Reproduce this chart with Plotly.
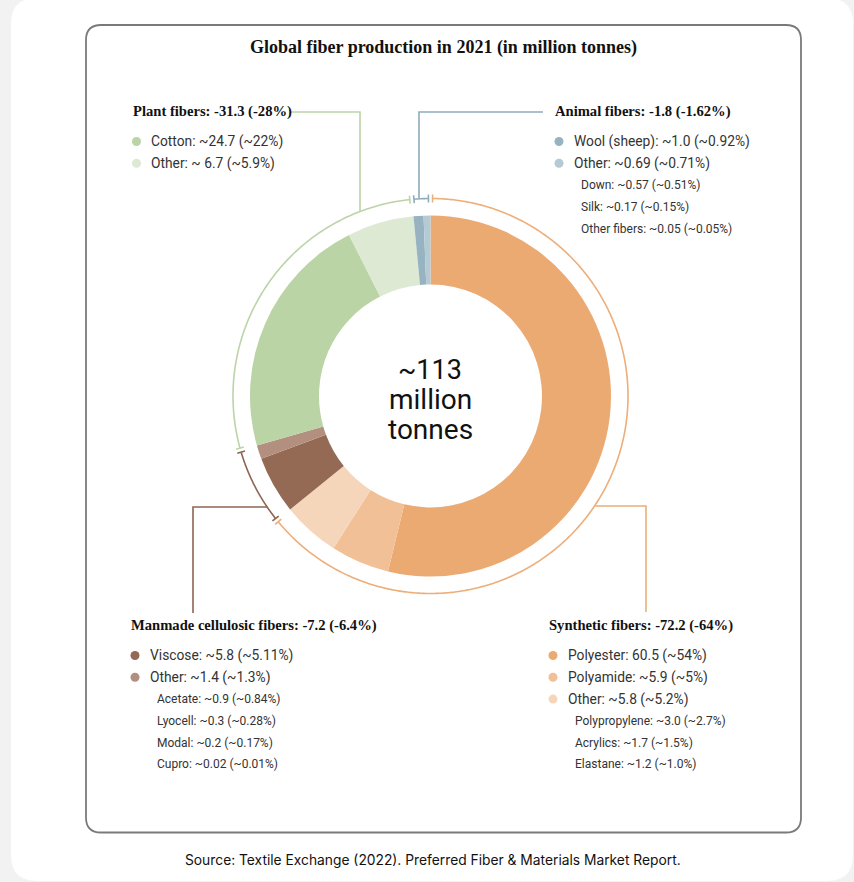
import math
import plotly.graph_objects as go

W, H = 854, 882

# ---------------- data ----------------
categories = ["Polyester", "Polyamide", "Other synthetic", "Viscose", "Other cellulosic",
              "Cotton", "Other plant", "Wool (sheep)", "Other animal"]
values = [60.5, 5.9, 5.8, 5.8, 1.4, 24.7, 6.7, 1.0, 0.69]
slice_groups = ["Synthetic", "Synthetic", "Synthetic", "Cellulosic", "Cellulosic",
                "Plant", "Plant", "Animal", "Animal"]
slice_colors = ["#ECAA73", "#F1C096", "#F6D6BB", "#956A55", "#B38F80",
                "#BBD4A6", "#DEE9D4", "#97B3C1", "#B4CAD5"]

group_names = ["Synthetic", "Cellulosic", "Plant", "Animal"]
group_titles = {
    "Synthetic": "Synthetic fibers: -72.2 (-64%)",
    "Cellulosic": "Manmade cellulosic fibers: -7.2 (-6.4%)",
    "Plant": "Plant fibers: -31.3 (-28%)",
    "Animal": "Animal fibers: -1.8 (-1.62%)",
}
group_line_colors = {"Synthetic": "#EDAE79", "Cellulosic": "#8E6552",
                     "Plant": "#BCD4A8", "Animal": "#8FADBD"}

synthetic_items = ["Polyester: 60.5 (~54%)", "Polyamide: ~5.9 (~5%)", "Other: ~5.8 (~5.2%)"]
synthetic_sub = ["Polypropylene: ~3.0 (~2.7%)", "Acrylics: ~1.7 (~1.5%)", "Elastane: ~1.2 (~1.0%)"]
cellulosic_items = ["Viscose: ~5.8 (~5.11%)", "Other: ~1.4 (~1.3%)"]
cellulosic_sub = ["Acetate: ~0.9 (~0.84%)", "Lyocell: ~0.3 (~0.28%)",
                  "Modal: ~0.2 (~0.17%)", "Cupro: ~0.02 (~0.01%)"]
plant_items = ["Cotton: ~24.7 (~22%)", "Other: ~ 6.7 (~5.9%)"]
plant_sub = []
animal_items = ["Wool (sheep): ~1.0 (~0.92%)", "Other: ~0.69 (~0.71%)"]
animal_sub = ["Down: ~0.57 (~0.51%)", "Silk: ~0.17 (~0.15%)", "Other fibers: ~0.05 (~0.05%)"]

group_items = {"Synthetic": synthetic_items, "Cellulosic": cellulosic_items,
               "Plant": plant_items, "Animal": animal_items}
group_subs = {"Synthetic": synthetic_sub, "Cellulosic": cellulosic_sub,
              "Plant": plant_sub, "Animal": animal_sub}

title_text = "Global fiber production in 2021 (in million tonnes)"
center_lines = ["~113", "million", "tonnes"]
source_text = "Source: Textile Exchange (2022). Preferred Fiber &amp; Materials Market Report."

# ---------------- layout constants (pixels) ----------------
CX, CY = 430.5, 396.0
R_OUT = 180.5
R_IN = 111.5
R_ARC = 197.5
HALF_GAP = 0.6
TICK = 4.0

block_pos = {"Synthetic": (547, 625), "Cellulosic": (129, 625),
             "Plant": (130.5, 111), "Animal": (553, 111)}
leaders = {
    "Plant": dict(kind="v", elbow=(360, 112), end=(290, 112)),
    "Animal": dict(kind="v", elbow=(419, 112), end=(543, 112)),
    "Cellulosic": dict(kind="h", elbow=(193, 507), end=(193, 613)),
    "Synthetic": dict(kind="h", elbow=(646, 506), end=(646, 612)),
}

SERIF = "Liberation Serif"
SANS = "Roboto"


def px(x):
    return x / W


def py(y):
    return 1 - y / H


def path_of(points, close=False):
    s = "M " + " L ".join(f"{px(x):.5f},{py(y):.5f}" for x, y in points)
    return s + (" Z" if close else "")


def polar(theta_deg, r):
    t = math.radians(theta_deg)
    return CX + r * math.sin(t), CY - r * math.cos(t)


fig = go.Figure()

fig.add_trace(go.Pie(
    labels=categories, values=values, sort=False, direction="clockwise", rotation=0,
    hole=R_IN / R_OUT, marker=dict(colors=slice_colors, line=dict(width=0)),
    textinfo="none", showlegend=False,
    domain=dict(x=[px(CX - R_OUT), px(CX + R_OUT)], y=[py(CY + R_OUT), py(CY - R_OUT)]),
    hovertemplate="%{label}: %{value}<extra></extra>",
))

shapes = []


def rounded_rect(x0, y0, x1, y1, r):
    return (f"M {px(x0 + r):.5f},{py(y0):.5f} L {px(x1 - r):.5f},{py(y0):.5f} "
            f"Q {px(x1):.5f},{py(y0):.5f} {px(x1):.5f},{py(y0 + r):.5f} "
            f"L {px(x1):.5f},{py(y1 - r):.5f} Q {px(x1):.5f},{py(y1):.5f} {px(x1 - r):.5f},{py(y1):.5f} "
            f"L {px(x0 + r):.5f},{py(y1):.5f} Q {px(x0):.5f},{py(y1):.5f} {px(x0):.5f},{py(y1 - r):.5f} "
            f"L {px(x0):.5f},{py(y0 + r):.5f} Q {px(x0):.5f},{py(y0):.5f} {px(x0 + r):.5f},{py(y0):.5f} Z")


# background card and inner frame
shapes.append(dict(type="path", xref="paper", yref="paper", layer="below",
                   path=rounded_rect(11, -2, 853, 881, 26),
                   fillcolor="white", line=dict(width=0)))
shapes.append(dict(type="path", xref="paper", yref="paper", layer="below",
                   path=rounded_rect(86, 25, 801, 832.5, 15),
                   fillcolor="rgba(0,0,0,0)", line=dict(color="#7A7A7A", width=1.8)))

# group arcs computed from data
total = sum(values)
group_span = {}
cum = 0.0
for v, g in zip(values, slice_groups):
    a0 = cum / total * 360
    cum += v
    a1 = cum / total * 360
    if g in group_span:
        group_span[g] = (group_span[g][0], a1)
    else:
        group_span[g] = (a0, a1)

for g in group_names:
    a0, a1 = group_span[g]
    s, e = a0 + HALF_GAP, a1 - HALF_GAP
    n = max(8, int((e - s) * 2))
    pts = [polar(s + (e - s) * i / n, R_ARC) for i in range(n + 1)]
    col = group_line_colors[g]
    shapes.append(dict(type="path", xref="paper", yref="paper", path=path_of(pts),
                       line=dict(color=col, width=1.6)))
    for a in (s, e):
        shapes.append(dict(type="path", xref="paper", yref="paper",
                           path=path_of([polar(a, R_ARC - TICK), polar(a, R_ARC + TICK)]),
                           line=dict(color=col, width=1.6)))
    # leader line
    L = leaders[g]
    ex, ey = L["elbow"]
    if L["kind"] == "v":
        ay = CY - math.sqrt(R_ARC ** 2 - (ex - CX) ** 2)
        start = (ex, ay)
    else:
        dx = math.sqrt(R_ARC ** 2 - (ey - CY) ** 2)
        start = (CX - dx if ex < CX else CX + dx, ey)
    shapes.append(dict(type="path", xref="paper", yref="paper",
                       path=path_of([start, (ex, ey), L["end"]]),
                       line=dict(color=col, width=1.6)))

annotations = []


def text(x, y, t, size, color="#222", family=SANS, anchor="left", weight="normal"):
    annotations.append(dict(x=px(x), y=py(y), xref="paper", yref="paper", text=t,
                            showarrow=False, xanchor=anchor, yanchor="middle",
                            font=dict(family=family, size=size, color=color, weight=weight)))


# title
text(W / 2 + 16, 48, title_text, 18, color="#111", family=SERIF, anchor="center", weight="bold")

# legend blocks
color_of = dict(zip(categories, slice_colors))
group_slices = {g: [c for c, gg in zip(categories, slice_groups) if gg == g] for g in group_names}
FIRST, STEP = 30.5, 21.8
for g in group_names:
    tx, ty = block_pos[g]
    text(tx, ty, group_titles[g], 14.6, color="#111", family=SERIF, weight="bold")
    y = ty + FIRST
    for lab, cat in zip(group_items[g], group_slices[g]):
        shapes.append(dict(type="circle", xref="paper", yref="paper",
                           x0=px(tx + 6 - 4.5), x1=px(tx + 6 + 4.5),
                           y0=py(y + 4.5), y1=py(y - 4.5),
                           fillcolor=color_of[cat], line=dict(width=0)))
        text(tx + 18.5, y, lab, 13.8, color="#333")
        y += STEP
    for lab in group_subs[g]:
        text(tx + 26, y, lab, 12.0, color="#333")
        y += STEP

# center text
text(CX, 370, center_lines[0], 27, color="#111", anchor="center")
text(CX, 399.5, center_lines[1], 28, color="#111", anchor="center")
text(CX, 429, center_lines[2], 28, color="#111", anchor="center")

# source
text(433.5, 860, source_text, 13.8, color="#111", family="Inter", anchor="center")

fig.update_layout(
    width=W, height=H, autosize=False,
    margin=dict(l=0, r=0, t=0, b=0),
    paper_bgcolor="#F2F2F2", plot_bgcolor="rgba(0,0,0,0)",
    shapes=shapes, annotations=annotations, showlegend=False,
)

fig.write_html("out.html", config={"displayModeBar": False},
               post_script="document.body.style.margin='0px';document.body.style.overflow='hidden';")
